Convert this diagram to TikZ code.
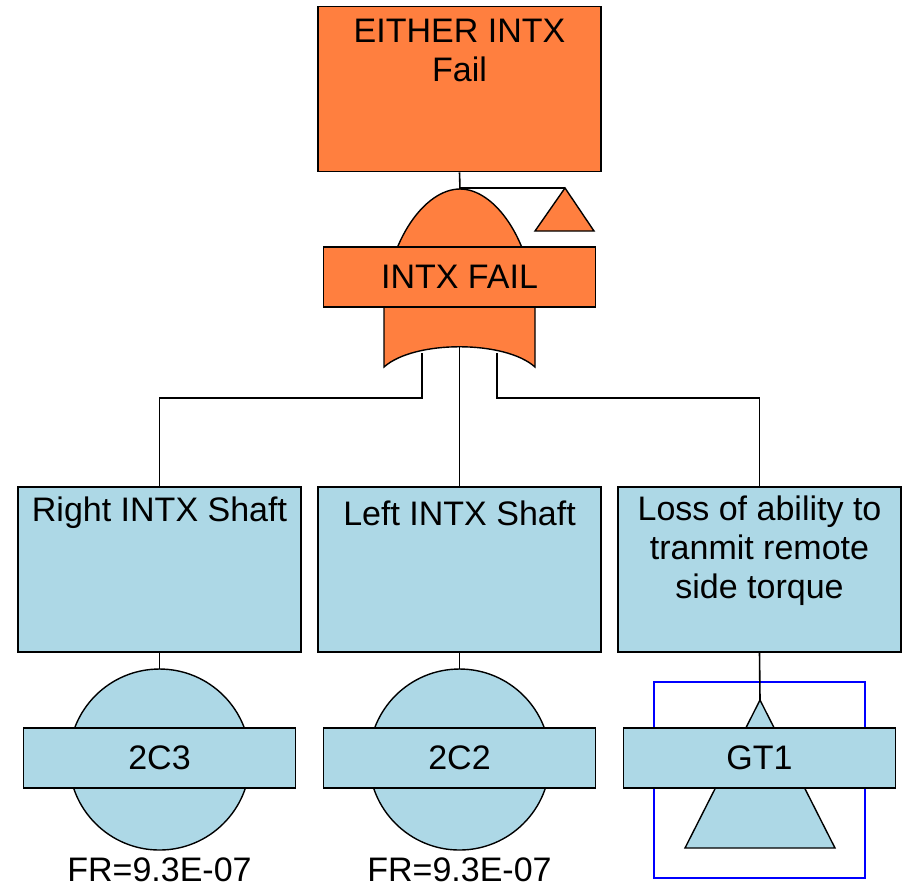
\documentclass[tikz,border=0pt]{standalone}
\usepackage{fontspec}
\setmainfont{Liberation Sans}
\definecolor{orng}{RGB}{255,127,63}
\definecolor{lblue}{RGB}{173,216,230}
\begin{document}
\begin{tikzpicture}[x=0.5pt,y=-0.5pt,
  box/.style={draw=black, line width=0.9pt, minimum width=141.5pt, minimum height=82.5pt, inner sep=0pt},
  lbl/.style={draw=black, line width=0.9pt, minimum width=136pt, minimum height=30pt, inner sep=0pt, font=\fontsize{17}{19.5}\selectfont},
  txt/.style={font=\fontsize{17}{19.5}\selectfont, align=center, inner sep=0pt},
  wire/.style={draw=black, line width=0.8pt},
  shp/.style={draw=black, line width=0.7pt}
]
\useasboundingbox (0,0) rectangle (903,891);

% ---- top event
\node[box, fill=orng] (top) at (459.5,89) {};
\node[txt] (toptxt) at (459.5,50) {EITHER INTX\\Fail};

% ---- OR gate
\coordinate (gtop) at (460,189);
\coordinate (tap) at (565,188);
\draw[shp, fill=orng] (384,367) -- (384,307) .. controls (388,240) and (425,189) .. (gtop)
  .. controls (495,189) and (531,240) .. (535,307) -- (535,367)
  .. controls (505,340) and (414,340) .. (384,367) -- cycle;
\draw[shp, fill=orng] (tap) -- (594,231) -- (535,231) -- cycle;
\draw[wire] (top.south) -- (gtop);
\draw[wire] (tap -| top.south) -- (tap);
\node[lbl, fill=orng] (gate) at (459.5,277) {INTX FAIL};

\coordinate (gl) at (422,353);
\coordinate (gm) at (459.5,347);
\coordinate (gr) at (497,353);

% ---- intermediate boxes
\node[box, fill=lblue] (b1) at (159.5,569.5) {};
\node[box, fill=lblue] (b2) at (459.5,569.5) {};
\node[box, fill=lblue] (b3) at (759.5,569.5) {};
\node[txt] (t1) at (159.5,513) {Right INTX Shaft};
\node[txt] (t2) at (459.5,513) {Left INTX Shaft};
\node[txt] (t3) at (759.5,550.5) {Loss of ability to\\tranmit remote\\side torque};

\draw[wire] (gl) -- (gl |- 0,398) -| (b1.north);
\draw[wire] (gm) -- (b2.north);
\draw[wire] (gr) -- (gr |- 0,398) -| (b3.north);

% ---- basic events
\draw[shp, fill=lblue] (159.5,759.5) circle[radius=90.5];
\draw[shp, fill=lblue] (459.5,759.5) circle[radius=90.5];
\coordinate (c1) at (159.5,669);
\coordinate (c2) at (459.5,669);
\draw[wire] (b1.south) -- (c1);
\draw[wire] (b2.south) -- (c2);
\node[lbl, fill=lblue] (e1) at (159.5,758) {2C3};
\node[lbl, fill=lblue] (e2) at (459.5,758) {2C2};
\node[txt] (fr1) at (159.5,870) {FR=9.3E-07};
\node[txt] (fr2) at (459.5,870) {FR=9.3E-07};

% ---- transfer gate
\draw[blue, line width=0.8pt] (654,682) rectangle (865,878);
\coordinate (tr) at (760,700);
\draw[shp, fill=lblue] (tr) -- (835,848) -- (685,848) -- cycle;
\draw[wire] (b3.south) -- (tr);
\node[lbl, fill=lblue] (e3) at (759.5,758) {GT1};
\end{tikzpicture}
\end{document}
